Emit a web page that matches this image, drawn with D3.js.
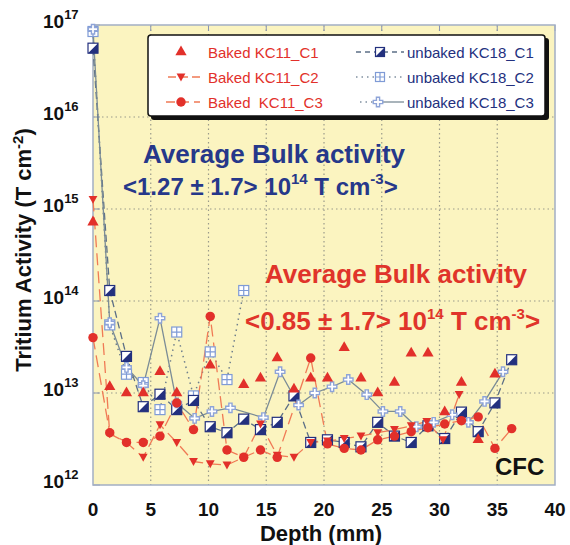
<!DOCTYPE html>
<html lang="en">
<head>
<meta charset="UTF-8">
<script src="https://cdn.jsdelivr.net/npm/d3@7/dist/d3.min.js"></script>
<title>tritium depth profile</title>
<style>
  body { margin: 0; background: #fff; }
  text { font-family: Arial, "Liberation Sans", sans-serif; }
  .tick-label { font-size: 19px; font-weight: bold; fill: #111; }
  .axis-title { font-size: 22px; font-weight: bold; fill: #111; }
  .legend-text { font-size: 15px; }
</style>
</head>
<body>
<div id="chart"></div>
<script>
// ---- data ----
var xTicks = [0, 5, 10, 15, 20, 25, 30, 35, 40];
var yTicks = [1e12, 1e13, 1e14, 1e15, 1e16, 1e17];

var bakedC1Depth = [0, 1.45, 2.9, 4.35, 5.8, 7.25, 10.15, 13.05, 14.5, 15.95, 17.4, 18.85, 20.3, 21.75, 23.2, 24.65, 26.1, 27.55, 29.0, 30.45, 31.9, 33.35, 34.8];
var bakedC1 = [7.2e14, 1.17e13, 1.0e13, 1.0e13, 1.7e13, 1.0e13, 2.0e13, 1.23e13, 1.45e13, 2.4e13, 1.1e13, 1.45e13, 1.45e13, 3.1e13, 1.45e13, 1.0e13, 1.3e13, 2.7e13, 2.7e13, 6.2e12, 1.3e13, 3.1e12, 1.6e13];

var bakedC2Depth = [0, 1.45, 2.9, 4.35, 5.8, 7.25, 8.7, 10.15, 11.6, 13.05, 14.5, 15.95, 17.4, 18.85, 20.3, 21.75, 23.2, 24.65, 26.1, 27.55, 28.9, 30.3, 31.7];
var bakedC2 = [1.27e15, 3.6e12, 2.9e12, 2.0e12, 4.5e12, 2.9e12, 1.8e12, 1.7e12, 1.65e12, 2.0e12, 4.6e12, 2.1e12, 2.0e12, 2.9e12, 3.0e12, 3.2e12, 3.4e12, 3.7e12, 4.0e12, 4.4e12, 4.9e12, 3.1e12, 9.6e12];

var bakedC3Depth = [0, 1.45, 2.9, 4.35, 5.8, 7.25, 8.7, 10.15, 11.6, 13.05, 14.5, 15.95, 18.85, 20.3, 21.75, 23.2, 24.65, 26.1, 27.55, 29.0, 30.45, 31.9, 33.35, 34.8, 36.25];
var bakedC3 = [4.0e13, 3.7e12, 2.9e12, 2.9e12, 3.4e12, 7.8e12, 4.0e12, 6.8e13, 2.4e12, 2.0e12, 2.4e12, 2.0e12, 2.4e13, 2.8e12, 2.5e12, 2.4e12, 3.1e12, 3.4e12, 3.8e12, 4.2e12, 4.6e12, 5.0e12, 5.5e12, 2.5e12, 4.1e12];

var unbakedC1Depth = [0, 1.45, 2.9, 4.35, 5.8, 7.25, 8.7, 10.15, 11.6, 13.05, 14.5, 15.95, 17.4, 18.85, 20.3, 21.75, 23.2, 24.65, 26.1, 27.55, 29.0, 30.45, 31.9, 33.35, 34.8, 36.25];
var unbakedC1 = [5.6e16, 1.3e14, 2.5e13, 7.1e12, 9.7e12, 6.6e12, 8.3e12, 4.3e12, 3.7e12, 5.2e12, 4.0e12, 4.8e12, 9.3e12, 2.9e12, 3.1e12, 2.9e12, 2.6e12, 4.8e12, 3.4e12, 2.9e12, 4.4e12, 3.2e12, 6.2e12, 3.8e12, 7.8e12, 2.3e13];

var unbakedC2Depth = [0, 1.45, 2.9, 4.35, 5.8, 7.25, 8.7, 10.15, 11.6, 13.05];
var unbakedC2 = [8.5e16, 5.5e13, 1.6e13, 1.3e13, 6.6e12, 4.6e13, 9.3e12, 2.8e13, 1.4e13, 1.3e14];

var unbakedC3Depth = [0, 1.45, 2.9, 4.35, 5.8, 7.25, 8.8, 10.3, 11.9, 14.75, 16.2, 17.8, 19.2, 20.7, 22.1, 23.7, 25.1, 26.6, 28.0, 29.5, 31.1, 32.5, 33.9, 35.5];
var unbakedC3 = [9.0e16, 5.8e13, 1.9e13, 1.2e13, 6.5e13, 7.8e12, 5.3e12, 6.3e12, 6.9e12, 5.4e12, 1.7e13, 7.4e12, 1.0e13, 1.17e13, 1.4e13, 9.6e12, 6.3e12, 6.3e12, 4.3e12, 4.8e12, 5.8e12, 4.8e12, 8.1e12, 1.7e13];

var legendLabels = ["Baked KC11_C1", "Baked KC11_C2", "Baked  KC11_C3", "unbaked KC18_C1", "unbaked KC18_C2", "unbaked KC18_C3"];

// ---- layout ----
var W = 570, H = 545;
var margin = {top: 25, right: 15, bottom: 60, left: 93};
var width = W - margin.left - margin.right;
var height = H - margin.top - margin.bottom;

var red = "#e2302a", redLine = "#f07a55";
var navy = "#23307e", blueLine = "#5c6f86", lightBlue = "#7f9bd6";

var svg = d3.select("#chart").append("svg")
    .attr("width", W).attr("height", H);

var x = d3.scaleLinear().domain([0, 40]).range([margin.left, margin.left + width]);
var y = d3.scaleLog().domain([1e12, 1e17]).range([margin.top + height, margin.top]);

// plot background
svg.append("rect")
    .attr("x", x(0)).attr("y", y(1e17))
    .attr("width", width).attr("height", height)
    .attr("fill", "#fbf4c0");

// grid
svg.append("g").selectAll("line")
    .data(xTicks.slice(1, -1)).enter().append("line")
    .attr("x1", d => x(d)).attr("x2", d => x(d))
    .attr("y1", y(1e17)).attr("y2", y(1e12))
    .attr("stroke", "#9a9a8a").attr("stroke-width", 1.2).attr("stroke-dasharray", "1.5,3");
svg.append("g").selectAll("line")
    .data(yTicks.slice(1, -1)).enter().append("line")
    .attr("x1", x(0)).attr("x2", x(40))
    .attr("y1", d => y(d)).attr("y2", d => y(d))
    .attr("stroke", "#9a9a8a").attr("stroke-width", 1.2).attr("stroke-dasharray", "1.5,3");

// inward ticks on left and top
svg.append("g").selectAll("line")
    .data(yTicks).enter().append("line")
    .attr("x1", x(0)).attr("x2", x(0) + 7)
    .attr("y1", d => y(d)).attr("y2", d => y(d))
    .attr("stroke", "#8a96b0");
svg.append("g").selectAll("line")
    .data(xTicks).enter().append("line")
    .attr("x1", d => x(d)).attr("x2", d => x(d))
    .attr("y1", y(1e17)).attr("y2", y(1e17) + 6)
    .attr("stroke", "#8a96b0");

svg.append("rect")
    .attr("x", x(0)).attr("y", y(1e17))
    .attr("width", width).attr("height", height)
    .attr("fill", "none").attr("stroke", "#a2aec4").attr("stroke-width", 1.5);

// tick labels
svg.append("g").selectAll("text")
    .data(xTicks).enter().append("text")
    .attr("class", "tick-label")
    .attr("x", d => x(d)).attr("y", y(1e12) + 31)
    .attr("text-anchor", "middle")
    .text(d => d);

var yl = svg.append("g").selectAll("text")
    .data(yTicks).enter().append("text")
    .attr("class", "tick-label")
    .attr("x", 43).attr("y", d => y(d) + 3);
yl.append("tspan").text("10");
yl.append("tspan").attr("dy", -9).style("font-size", "13px").text(d => Math.round(Math.log10(d)));

// axis titles
svg.append("text")
    .attr("class", "axis-title")
    .attr("x", x(20) - 3).attr("y", 541)
    .attr("text-anchor", "middle")
    .text("Depth  (mm)");

var yt = svg.append("text")
    .attr("class", "axis-title")
    .attr("transform", "translate(31," + 250 + ") rotate(-90)")
    .attr("text-anchor", "middle");
yt.append("tspan").text("Tritium Activity  (T cm");
yt.append("tspan").attr("dy", -8).style("font-size", "15px").text("-2");
yt.append("tspan").attr("dy", 8).text(")");

// ---- series ----
function pts(depth, vals) {
    return depth.map((d, i) => ({x: d, v: vals[i]}));
}
var line = d3.line().x(d => x(d.x)).y(d => y(d.v));

function drawLine(data, color, dash, w) {
    svg.append("path")
        .datum(data)
        .attr("d", line)
        .attr("fill", "none")
        .attr("stroke", color)
        .attr("stroke-width", w)
        .attr("stroke-dasharray", dash);
}

var sBakedC1 = pts(bakedC1Depth, bakedC1);
var sBakedC2 = pts(bakedC2Depth, bakedC2);
var sBakedC3 = pts(bakedC3Depth, bakedC3);
var sUnC1 = pts(unbakedC1Depth, unbakedC1);
var sUnC2 = pts(unbakedC2Depth, unbakedC2);
var sUnC3 = pts(unbakedC3Depth, unbakedC3);

drawLine(sUnC2, "#6f7f8c", "1.5,4", 1.5);
drawLine(sUnC1, blueLine, "7,4", 1.3);
drawLine(sUnC3, "#7b8c96", null, 1.3);
drawLine(sBakedC2, redLine, "12,6", 1.3);
drawLine(sBakedC3, redLine, "12,6", 1.3);

// marker drawing helpers
function halfSquare(g, s) {
    g.append("rect").attr("x", -s / 2).attr("y", -s / 2).attr("width", s).attr("height", s)
        .attr("fill", "#fff").attr("stroke", navy).attr("stroke-width", 1.2);
    g.append("path").attr("d", "M" + (-s / 2) + "," + (s / 2) + "L" + (s / 2) + "," + (-s / 2) + "L" + (s / 2) + "," + (s / 2) + "Z")
        .attr("fill", navy);
}
function gridSquare(g, s) {
    g.append("rect").attr("x", -s / 2).attr("y", -s / 2).attr("width", s).attr("height", s)
        .attr("fill", "#fff").attr("stroke", lightBlue).attr("stroke-width", 1.2);
    g.append("path").attr("d", "M0," + (-s / 2) + "V" + (s / 2) + "M" + (-s / 2) + ",0H" + (s / 2))
        .attr("stroke", lightBlue).attr("stroke-width", 1.2);
}
function crossMark(g, s) {
    g.append("path").attr("d", d3.symbol(d3.symbolCross, s))
        .attr("fill", "#fff").attr("stroke", "#8ea4d8").attr("stroke-width", 1.4);
}
function redSym(type, s) {
    return function(g) {
        g.append("path").attr("d", d3.symbol(type, s)).attr("fill", red);
    };
}
var triDown = {
    draw: function(ctx, size) {
        var h = Math.sqrt(size * 1.3);
        ctx.moveTo(-h / 2, -h * 0.4);
        ctx.lineTo(h / 2, -h * 0.4);
        ctx.lineTo(0, h * 0.5);
        ctx.closePath();
    }
};

function drawMarks(data, fn) {
    svg.append("g").selectAll("g")
        .data(data).enter().append("g")
        .attr("transform", d => "translate(" + x(d.x) + "," + y(d.v) + ")")
        .each(function() { fn(d3.select(this)); });
}

drawMarks(sUnC2, g => gridSquare(g, 10));
drawMarks(sUnC1, g => halfSquare(g, 10));
drawMarks(sUnC3, g => crossMark(g, 50));
drawMarks(sBakedC1, redSym(d3.symbolTriangle, 55));
drawMarks(sBakedC2, redSym(triDown, 60));
drawMarks(sBakedC3, redSym(d3.symbolCircle, 70));

// ---- legend ----
svg.append("rect")
    .attr("x", 151).attr("y", 38).attr("width", 398).attr("height", 82).attr("rx", 3)
    .attr("fill", "#111");
svg.append("rect")
    .attr("x", 148).attr("y", 35).attr("width", 397).attr("height", 81).attr("rx", 3)
    .attr("fill", "#fff").attr("stroke", "#111").attr("stroke-width", 1.5);

var rowY = [52, 77, 102];
var legG = svg.append("g");
// left column
legG.append("line").attr("x1", 168).attr("x2", 200).attr("y1", rowY[1]).attr("y2", rowY[1])
    .attr("stroke", redLine).attr("stroke-width", 1.3).attr("stroke-dasharray", "8,4");
legG.append("line").attr("x1", 166).attr("x2", 200).attr("y1", rowY[2]).attr("y2", rowY[2])
    .attr("stroke", redLine).attr("stroke-width", 1.3).attr("stroke-dasharray", "9,5");
var lm = [redSym(d3.symbolTriangle, 55), redSym(triDown, 60), redSym(d3.symbolCircle, 70)];
lm.forEach(function(fn, i) {
    fn(legG.append("g").attr("transform", "translate(181," + rowY[i] + ")"));
});
legG.selectAll(".lt").data(legendLabels.slice(0, 3)).enter().append("text")
    .attr("class", "legend-text")
    .attr("x", 208).attr("y", (d, i) => rowY[i] + 5.5)
    .attr("fill", red).attr("xml:space", "preserve")
    .text(d => d);
// right column
legG.append("line").attr("x1", 356).attr("x2", 404).attr("y1", rowY[0]).attr("y2", rowY[0])
    .attr("stroke", blueLine).attr("stroke-width", 1.3).attr("stroke-dasharray", "5,4");
legG.append("line").attr("x1", 356).attr("x2", 404).attr("y1", rowY[1]).attr("y2", rowY[1])
    .attr("stroke", "#8090a0").attr("stroke-width", 1.5).attr("stroke-dasharray", "1.5,4");
legG.append("line").attr("x1", 360).attr("x2", 374).attr("y1", rowY[2]).attr("y2", rowY[2])
    .attr("stroke", "#8090a0").attr("stroke-width", 1.5).attr("stroke-dasharray", "1.5,4");
legG.append("line").attr("x1", 380).attr("x2", 404).attr("y1", rowY[2]).attr("y2", rowY[2])
    .attr("stroke", "#7b8c96").attr("stroke-width", 1.3);
halfSquare(legG.append("g").attr("transform", "translate(380," + rowY[0] + ")"), 9);
gridSquare(legG.append("g").attr("transform", "translate(380," + rowY[1] + ")"), 9);
crossMark(legG.append("g").attr("transform", "translate(378," + rowY[2] + ")"), 50);
legG.selectAll(".rt").data(legendLabels.slice(3)).enter().append("text")
    .attr("class", "legend-text")
    .attr("x", 407).attr("y", (d, i) => rowY[i] + 5.5)
    .attr("fill", navy)
    .text(d => d);

// ---- annotations ----
function bulkNote(px, py, py2, px2, color, value, s2) {
    svg.append("text")
        .attr("x", px).attr("y", py)
        .attr("fill", color).style("font-size", "26px").style("font-weight", "bold")
        .text("Average Bulk activity");
    var t = svg.append("text")
        .attr("x", px2).attr("y", py2)
        .attr("fill", color).style("font-size", s2 + "px").style("font-weight", "bold")
        .attr("xml:space", "preserve");
    t.append("tspan").text("<" + value + " \u00b1 1.7> 10");
    t.append("tspan").attr("dy", -11).style("font-size", "15px").text("14");
    t.append("tspan").attr("dy", 11).text(" T cm");
    t.append("tspan").attr("dy", -11).style("font-size", "15px").text("-3");
    t.append("tspan").attr("dy", 11).text(">");
}
bulkNote(143, 163, 195, 123, "#26388a", "1.27", 24);
bulkNote(265, 283, 330, 245, "#e0342a", "0.85", 26);

svg.append("text")
    .attr("x", 495).attr("y", 475)
    .attr("fill", "#111").style("font-size", "24px").style("font-weight", "bold")
    .text("CFC");
</script>
</body>
</html>
